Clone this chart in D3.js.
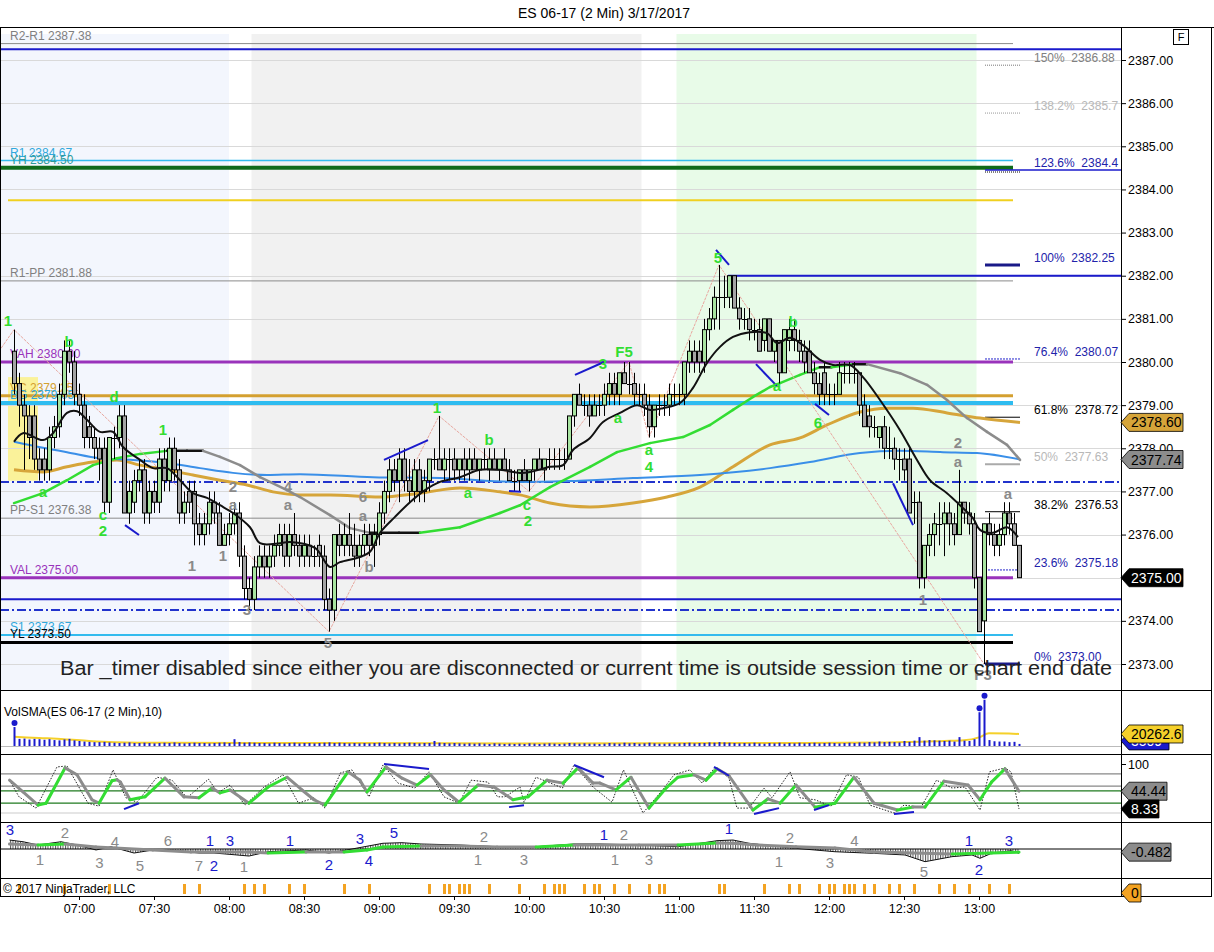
<!DOCTYPE html>
<html><head><meta charset="utf-8">
<script src="https://cdn.jsdelivr.net/npm/d3@7"></script>
<style>
body{margin:0;background:#fff;}
svg{display:block;font-family:Arial,"Liberation Sans",sans-serif;}
</style></head><body>
<svg id="c" width="1214" height="952"></svg>
<script>
// ---------------- DATA ----------------
const title = "ES 06-17 (2 Min)  3/17/2017";
const barOpen = [2380.25,2379.5,2379.0,2378.75,2378.75,2377.75,2377.75,2377.5,2378.25,2378.5,2379.25,2380.25,2380.0,2379.25,2379.0,2378.5,2378.25,2378.0,2378.0,2376.75,2378.25,2378.25,2378.75,2376.5,2376.75,2377.25,2377.5,2376.5,2377.0,2376.75,2377.75,2377.25,2378.0,2377.5,2376.5,2377.0,2377.0,2376.25,2376.0,2376.25,2376.75,2376.5,2375.75,2376.0,2376.25,2376.5,2375.5,2374.75,2374.5,2375.25,2375.5,2375.25,2375.5,2375.75,2376.0,2375.5,2376.0,2375.75,2375.5,2375.75,2375.5,2375.75,2375.5,2374.5,2374.25,2376.0,2375.75,2376.0,2375.75,2375.5,2375.75,2376.0,2375.75,2376.0,2376.5,2377.0,2377.5,2377.25,2377.75,2377.25,2377.0,2377.5,2377.0,2377.25,2377.75,2377.75,2377.5,2377.75,2377.75,2377.5,2377.75,2377.5,2377.75,2377.5,2377.75,2377.5,2377.75,2377.5,2377.75,2377.5,2377.25,2377.25,2377.5,2377.25,2377.5,2377.75,2377.5,2377.75,2377.75,2377.75,2377.75,2377.75,2378.75,2379.25,2379.0,2379.0,2378.75,2379.0,2379.0,2379.25,2379.5,2379.25,2379.75,2379.5,2379.5,2379.25,2379.25,2379.0,2378.5,2379.0,2379.0,2379.0,2379.25,2379.25,2379.25,2380.0,2380.25,2380.25,2380.0,2380.75,2381.0,2381.5,2381.5,2381.5,2382.0,2381.25,2381.0,2381.0,2380.75,2380.75,2380.5,2381.0,2380.25,2380.5,2379.75,2380.5,2380.75,2380.5,2380.25,2380.25,2379.75,2379.5,2379.75,2379.25,2379.25,2379.25,2379.75,2379.75,2379.75,2379.75,2379.0,2378.75,2378.5,2378.25,2378.5,2378.0,2378.0,2377.75,2377.75,2377.75,2376.75,2376.75,2375.0,2375.75,2376.0,2376.25,2376.25,2376.5,2376.25,2376.0,2376.75,2376.5,2376.25,2375.0,2374.0,2376.25,2376.0,2375.75,2376.0,2376.5,2376.25,2375.75];
const barHigh = [2380.75,2379.75,2379.25,2379.0,2379.0,2378.0,2378.0,2378.5,2378.75,2379.5,2380.5,2380.5,2380.25,2379.5,2379.25,2378.75,2378.5,2378.25,2378.25,2378.25,2378.5,2379.0,2379.0,2377.25,2377.5,2377.75,2377.75,2377.25,2377.25,2378.0,2378.0,2378.25,2378.25,2377.75,2377.0,2377.25,2377.25,2376.5,2376.5,2377.0,2377.0,2376.75,2376.25,2376.5,2376.75,2376.75,2375.75,2375.0,2375.5,2375.75,2375.75,2375.75,2376.0,2376.25,2376.25,2376.25,2376.5,2376.0,2376.0,2376.0,2375.75,2376.0,2375.75,2374.75,2376.0,2376.25,2376.25,2376.5,2376.25,2376.0,2376.25,2376.25,2376.25,2376.75,2377.25,2377.75,2377.75,2378.0,2378.0,2377.75,2377.75,2377.75,2377.5,2377.75,2378.0,2378.75,2378.0,2378.0,2378.0,2377.75,2378.0,2378.0,2378.0,2377.75,2378.0,2378.0,2378.0,2377.75,2378.0,2377.75,2377.5,2377.5,2377.75,2377.5,2377.75,2378.0,2377.75,2378.0,2378.0,2378.0,2378.0,2378.75,2379.25,2379.5,2379.25,2379.25,2379.25,2379.25,2379.5,2379.75,2379.75,2379.75,2380.0,2380.0,2379.75,2379.5,2379.5,2379.25,2379.0,2379.25,2379.25,2379.5,2379.5,2379.5,2380.0,2380.5,2380.5,2380.5,2381.0,2381.25,2381.75,2382.25,2382.0,2382.0,2382.0,2381.5,2381.25,2381.25,2381.0,2381.0,2381.0,2381.0,2380.5,2380.5,2380.75,2381.0,2381.0,2380.75,2380.5,2380.5,2380.0,2379.75,2380.0,2379.5,2379.5,2380.0,2380.0,2380.0,2380.0,2379.75,2379.25,2379.0,2378.75,2378.5,2378.75,2378.5,2378.25,2378.0,2378.0,2378.0,2377.0,2377.0,2375.75,2376.25,2376.5,2376.75,2376.75,2376.75,2376.5,2377.5,2376.75,2376.75,2376.5,2375.0,2376.25,2376.5,2376.25,2376.25,2376.75,2376.75,2376.5,2375.75];
const barLow = [2379.25,2378.5,2377.5,2377.75,2377.5,2377.25,2377.25,2377.25,2378.0,2378.25,2379.0,2379.75,2379.0,2378.75,2378.0,2378.0,2377.75,2377.25,2376.5,2376.5,2377.75,2378.0,2376.5,2376.25,2376.5,2377.0,2376.25,2376.25,2376.5,2376.5,2377.0,2377.0,2377.25,2376.25,2376.25,2376.5,2375.75,2375.75,2375.75,2376.0,2376.25,2375.75,2375.75,2375.75,2376.0,2375.25,2374.5,2374.25,2374.25,2375.0,2375.0,2375.0,2375.25,2375.5,2375.25,2375.25,2375.5,2375.25,2375.25,2375.25,2375.25,2375.25,2374.25,2373.75,2374.0,2375.5,2375.5,2375.5,2375.25,2375.25,2375.5,2375.5,2375.25,2375.75,2376.25,2376.75,2377.0,2376.75,2377.0,2376.75,2376.75,2376.75,2376.75,2377.0,2377.5,2377.5,2377.25,2377.25,2377.25,2377.25,2377.25,2377.25,2377.5,2377.25,2377.5,2377.25,2377.5,2377.25,2377.5,2377.25,2377.0,2377.0,2377.25,2377.0,2377.25,2377.5,2377.25,2377.5,2377.5,2377.5,2377.5,2377.75,2378.5,2379.0,2378.75,2378.5,2378.75,2378.75,2378.75,2379.0,2379.0,2379.0,2379.5,2379.25,2379.0,2379.0,2378.75,2378.25,2378.25,2378.75,2378.75,2378.75,2379.0,2379.0,2379.0,2379.75,2379.75,2379.75,2379.75,2380.5,2380.75,2380.75,2381.25,2381.25,2381.25,2380.75,2380.75,2380.5,2380.5,2380.25,2380.25,2380.25,2380.0,2379.5,2379.75,2380.25,2380.25,2380.0,2379.75,2379.75,2379.25,2379.0,2379.0,2379.0,2379.0,2379.25,2379.5,2379.5,2379.5,2378.75,2378.5,2378.25,2378.25,2378.0,2377.75,2377.75,2377.5,2377.25,2377.25,2376.5,2376.25,2374.75,2374.75,2375.5,2375.5,2375.75,2375.5,2375.75,2375.75,2376.0,2376.25,2376.0,2374.75,2373.75,2373.0,2375.75,2375.5,2375.5,2375.75,2376.0,2375.75,2375.0];
const barClose = [2379.5,2379.0,2378.75,2378.25,2377.75,2377.5,2377.5,2378.25,2378.5,2379.25,2380.25,2380.0,2379.25,2379.0,2378.25,2378.25,2378.0,2377.75,2376.75,2378.25,2378.25,2378.75,2376.5,2377.0,2377.25,2377.5,2376.5,2377.0,2376.75,2377.75,2377.25,2378.0,2377.5,2376.5,2376.75,2376.75,2376.25,2376.0,2376.25,2376.75,2376.5,2375.75,2376.0,2376.25,2376.5,2375.5,2374.75,2374.5,2375.25,2375.5,2375.25,2375.5,2375.75,2376.0,2375.5,2376.0,2375.75,2375.5,2375.75,2375.5,2375.5,2375.5,2374.5,2374.25,2376.0,2375.75,2376.0,2375.75,2375.5,2375.75,2376.0,2375.75,2376.0,2376.5,2377.0,2377.5,2377.25,2377.75,2377.25,2377.0,2377.5,2377.0,2377.25,2377.75,2377.75,2377.5,2377.75,2377.75,2377.5,2377.75,2377.5,2377.75,2377.5,2377.75,2377.75,2377.75,2377.5,2377.75,2377.5,2377.25,2377.25,2377.5,2377.25,2377.5,2377.75,2377.5,2377.75,2377.75,2377.75,2377.75,2377.75,2378.75,2379.25,2379.0,2379.0,2378.75,2379.0,2379.0,2379.25,2379.5,2379.25,2379.75,2379.5,2379.5,2379.25,2379.25,2379.0,2378.5,2379.0,2379.0,2379.0,2379.25,2379.25,2379.25,2380.0,2380.25,2380.0,2380.0,2380.75,2381.0,2381.5,2381.5,2381.5,2382.0,2381.25,2381.0,2381.0,2380.75,2380.75,2380.25,2381.0,2380.25,2380.5,2379.75,2380.75,2380.75,2380.5,2380.25,2380.0,2379.75,2379.5,2379.25,2379.25,2379.25,2379.25,2379.75,2379.75,2379.75,2379.75,2379.0,2378.5,2378.5,2378.5,2378.5,2378.0,2378.0,2377.75,2377.75,2377.5,2376.5,2376.75,2375.0,2375.75,2376.0,2376.25,2376.25,2376.5,2376.25,2376.0,2376.75,2376.5,2376.25,2375.0,2373.75,2376.25,2376.0,2375.75,2376.0,2376.5,2376.25,2375.75,2375.0];
const volumes = [32000,12000,12500,11000,12000,11500,10500,11500,10000,9500,11000,12000,9500,8500,7500,7000,6500,6500,7000,6000,5500,5000,5500,6000,5000,5000,5500,5000,4500,5000,5500,5000,6000,5000,4500,5000,5500,5000,5000,4500,5000,5500,6000,5000,11500,6500,5500,6000,5500,5000,5000,4500,5500,5000,4500,5000,5500,4500,5000,5000,4500,5000,5500,6000,5000,5500,5000,4500,5000,4500,5000,4500,5000,5500,5000,4500,5000,4500,5000,5500,5000,4500,5000,5000,8500,5500,5000,4500,5000,4500,4000,4500,4000,4500,4000,3500,4500,4000,3500,4000,3500,4000,3500,4500,4000,3500,4000,4500,4000,3500,4000,5000,4500,4000,4500,4000,4000,3500,4000,5000,4500,4000,5500,4500,5000,4000,4500,5500,4500,4000,4000,4500,4000,4500,5000,5500,4500,5000,5000,6000,5500,6500,6000,5500,5000,4500,5000,4500,5500,4500,4000,5000,4500,5500,4000,5000,4500,5500,4500,5000,5500,4500,5000,5500,5000,4500,5000,5500,5000,6000,5500,6500,6000,7500,6500,7000,6500,6000,8500,7000,9000,15000,9000,10000,9500,9000,8500,9000,7500,15000,9000,8500,11500,57000,78000,10000,8000,7500,7500,6500,7000,3509];
const volSma = [[0,15500],[5,13500],[10,11500],[15,8500],[20,6500],[30,5300],[60,5000],[100,4300],[150,4900],[175,6000],[186,8400],[190,9500],[193,14500],[195,21500],[199,21000],[201,20262.6]];
// indicator curves: [bar index, value]
const emaPts = [[0,2378.15],[1.8,2378.35],[5.8,2378.19],[7.8,2378.35],[10.6,2378.82],[12.6,2378.86],[14.6,2378.66],[17.2,2378.38],[19.8,2378.38],[21.8,2378.03],[25.2,2377.73],[27.8,2377.54],[30.6,2377.54],[33.2,2377.26],[35.8,2376.96],[38.6,2376.85],[41.2,2376.68],[43.8,2376.5],[47.2,2376.17],[49.2,2375.8],[53.2,2375.8],[55.2,2375.83],[60.2,2375.69],[63.2,2375.25],[65.2,2375.36],[69.2,2375.48],[71.2,2375.6],[73.2,2376.04],[76.2,2376.41],[79.2,2376.75],[82.2,2377.03],[85.2,2377.22],[89.2,2377.33],[93.2,2377.5],[97.2,2377.5],[101.2,2377.43],[103.2,2377.45],[107.2,2377.57],[109.8,2377.61],[111.8,2377.96],[115.2,2378.24],[117.8,2378.61],[121.2,2378.82],[124.6,2379.0],[127.2,2378.89],[129.8,2378.93],[133.2,2379.05],[135.8,2379.4],[138.6,2379.98],[141.2,2380.35],[143.8,2380.58],[147.2,2380.69],[150.6,2380.67],[152.6,2380.44],[155.2,2380.56],[157.8,2380.39],[161.2,2380.05],[163.8,2379.93],[167.2,2379.93],[169.8,2379.65],[173.2,2379.12],[177.2,2378.42],[180.6,2377.73],[183.2,2377.26],[186.6,2376.96],[189.2,2376.68],[191.8,2376.38],[193.2,2376.11],[195.8,2376.04],[198.6,2376.17],[200.8,2375.94]];
const goldPts = [[0,2377.5],[5.8,2377.45],[10.6,2377.57],[15.8,2377.68],[20.6,2377.73],[25.2,2377.61],[30.6,2377.5],[35.8,2377.38],[41.2,2377.26],[46.6,2377.15],[51.8,2376.99],[57.2,2376.92],[63.2,2376.92],[73.2,2376.87],[81.2,2376.96],[89.2,2377.08],[97.2,2376.99],[101.2,2376.92],[107.2,2376.73],[115.2,2376.64],[123.8,2376.73],[130.6,2376.87],[137.2,2377.1],[143.8,2377.57],[151.2,2378.08],[157.2,2378.24],[162.6,2378.54],[169.2,2378.84],[174.6,2378.93],[179.8,2378.93],[186.6,2378.82],[193.2,2378.7],[201.2,2378.6]];
const bluePts = [[0,2378.15],[5.8,2378.01],[10.6,2377.91],[17.2,2377.77],[23.8,2377.73],[30.6,2377.66],[37.2,2377.54],[43.8,2377.43],[50.6,2377.38],[57.2,2377.4],[71.8,2377.33],[85.2,2377.31],[101.2,2377.22],[110.6,2377.24],[123.8,2377.31],[137.2,2377.38],[151.2,2377.54],[159.2,2377.68],[169.2,2377.89],[177.2,2377.94],[185.8,2377.91],[192.6,2377.89],[201.2,2377.74]];
const trendPts = [[0,2376.73],[5.8,2376.96],[10.6,2377.26],[15.8,2377.61],[20.6,2377.77],[25.2,2377.87],[30.6,2377.94],[34.6,2377.94],[37.8,2377.94],[41.2,2377.8],[45.2,2377.61],[49.2,2377.33],[54.6,2377.03],[57.2,2376.87],[63.2,2376.45],[67.2,2376.15],[71.2,2376.04],[73.2,2376.04],[77,2376.04],[81.2,2376.04],[89.2,2376.17],[97.2,2376.5],[101.2,2376.68],[107.2,2377.1],[115.2,2377.57],[120.6,2377.91],[127.2,2378.12],[133.8,2378.26],[139.2,2378.54],[143.8,2378.89],[147.8,2379.19],[151.2,2379.42],[153.2,2379.51],[157.2,2379.7],[161.2,2379.88],[163.5,2379.88],[167.8,2379.95],[170.6,2379.95],[177.2,2379.74],[182.6,2379.47],[186.6,2379.12],[190.6,2378.7],[194.6,2378.38],[198.6,2378.08],[201.2,2377.73]];
const zigzag = [[-3,2380.25],[0,2380.75],[63,2373.75],[85,2378.75],[103,2377.0],[123,2380.0],[127,2378.25],[141,2382.25],[194,2373.0]];
const divLines = [[22.2,2376.22,25,2375.99],[74,2377.73,82.8,2378.19],[99,2377.01,101.4,2376.99],[112.2,2379.7,118,2380.0],[140.4,2382.6,143,2382.25],[148.4,2379.95,152.6,2379.44],[160.2,2379.03,163,2378.77],[175.8,2377.19,179.8,2376.22]];
const waveLabels = [["1",-1.2,2380.95,"g"],["b",11,2380.46,"g"],["a",5.8,2377.0,"g"],["c",17.8,2376.45,"g"],["2",17.8,2376.08,"g"],["d",20,2379.19,"g"],["1",29.8,2378.42,"g"],["1",84.6,2378.93,"g"],["b",95,2378.19,"g"],["a",90.8,2376.96,"g"],["c",102.6,2376.68,"g"],["2",102.8,2376.31,"g"],["3",117.8,2379.95,"g"],["F5",122,2380.23,"g"],["a",120.8,2378.7,"g"],["a",127,2377.96,"g"],["4",127,2377.57,"g"],["5",140.8,2382.41,"g"],["b",155.8,2380.93,"g"],["a",152.6,2379.44,"g"],["6",160.8,2378.59,"g"],
 ["1",35.6,2375.27,"k"],["1",41.8,2375.5,"k"],["2",43.8,2377.1,"k"],["a",43.8,2376.68,"k"],["4",54.8,2377.1,"k"],["a",54.8,2376.68,"k"],["3",46.6,2374.25,"k"],["6",69.8,2376.87,"k"],["a",69.8,2376.43,"k"],["b",71,2375.25,"k"],["5",62.8,2373.49,"k"],["2",188.8,2378.12,"k"],["a",188.8,2377.68,"k"],["a",198.8,2376.94,"k"],["1",181.8,2374.48,"k"],["F3",193.8,2372.74,"k"]];
const levelNames  = ["R2-R1 2387.38","R2","R1 2384.67","YH 2384.50","VWAP+","R1 pivot","R1-PP 2381.88","VAH 2380.00","VC 2379.25","BG 2379.05","POC","PP-S1 2376.38","VAL 2375.00","S1 pivot","S1 band","S1 2373.67","YL 2373.50"];
const levelPrices = [2387.38,2387.25,2384.67,2384.5,2383.75,2382.0,2381.88,2380.0,2379.22,2379.05,2377.22,2376.38,2375.0,2374.5,2374.25,2373.67,2373.5];
const fibPcts   = ["150%","138.2%","123.6%","100%","76.4%","61.8%","50%","38.2%","23.6%","0%"];
const fibPrices = [2386.88,2385.77,2384.45,2382.25,2380.07,2378.72,2377.63,2376.53,2375.18,2373.0];
const fibText   = ["2386.88","2385.7","2384.4","2382.25","2380.07","2378.72","2377.63","2376.53","2375.18","2373.00"];
const sessions = [["06:28","08:00"],["08:09","10:45"],["10:59","12:59"]];
const stochD = [[-0.9,67],[1.8,43],[4.8,16],[6.4,20],[10.2,92],[12.6,78],[15.6,27],[17,20],[19.6,66],[20.6,68],[21.3,63],[23.2,27],[26.2,33],[30.2,71],[34,33],[37,31],[39.6,51],[41.2,41],[43.2,47],[47,20],[50.8,53],[54.6,73],[57.6,47],[60,27],[62.2,16],[66.8,84],[69.2,67],[70.6,43],[74.4,94],[77.6,71],[80.6,57],[83.3,78],[86,47],[89,22],[92.8,57],[96,53],[99.8,27],[102.8,33],[106.6,67],[109.8,61],[112.8,92],[115.8,61],[117.2,61],[120.4,47],[123.4,73],[127,10],[130.6,53],[132.8,73],[136,78],[138.4,67],[140.6,90],[143,76],[147.8,6],[150.8,29],[153.2,20],[156.4,57],[160.2,12],[164.2,20],[168,73],[172,20],[176.7,6],[179.8,12],[182.2,12],[186,65],[190.8,57],[193.2,27],[195.5,63],[198.2,90],[201,44.44]];
const stochK = [[-0.9,67],[1,33],[4.4,10],[8.6,94],[10.6,96],[14.8,20],[17,14],[19.8,88],[22.4,31],[24.6,22],[28.6,73],[31.6,67],[34.6,31],[38.9,69],[40.8,41],[43.2,57],[46.2,16],[50,53],[53.8,78],[56.9,20],[60,31],[62.2,10],[65.3,82],[67.6,88],[71,33],[73.8,98],[76.8,61],[80.2,51],[83,84],[86,33],[89,20],[91.4,67],[94.8,63],[96.7,33],[98.2,33],[101.2,53],[102,22],[104.4,73],[109.7,51],[112,98],[115.8,53],[119.6,22],[121.9,88],[125.8,0],[129.7,47],[132,78],[135.2,88],[137.6,61],[140.3,94],[143,71],[144.6,10],[147,10],[150,51],[151.6,31],[155.2,84],[157.2,31],[160.2,27],[163.4,14],[166.5,78],[168.9,73],[171.2,16],[176,0],[178,16],[181.4,12],[184.5,67],[187.6,51],[190.2,53],[193.2,6],[195.1,84],[198.2,92],[199.4,84],[201,8.33]];
const stochDiv = [[22,8,25,20],[74,100,83,90],[99,12,102,16],[112,98,118,73],[140,94,143,76],[148,-2,153,10],[160,6,163,16],[176,-2,180,2]];
const stochLevels = [80,55,45,20,0];
const macdSlow = [[-0.9,0.77],[4.8,0.62],[10.2,0.77],[16.4,0.31],[20.2,0.15],[27.8,-0.15],[35.4,-0.46],[47,-0.46],[50.8,-0.62],[58.4,-0.46],[66,-0.46],[70.6,-0.15],[73.8,0.31],[81.4,0.46],[89,0.46],[96.6,0.31],[104.4,0.31],[112,0.62],[125,0.62],[132.8,0.62],[140.6,0.92],[144.6,0.85],[148.6,0.62],[156.4,0.35],[164.2,0.15],[172,-0.46],[179.8,-0.62],[187.6,-0.77],[195.5,-0.62],[201,-0.482]];
const macdFast = [[-0.9,1.38],[1.8,1.12],[4.8,0.62],[9.4,1.12],[12.6,0.62],[16.4,-0.15],[19.4,0.35],[24,-0.62],[27.8,-0.15],[31.6,-0.15],[37,-0.62],[40,-0.62],[44.6,-0.92],[47,-1.08],[50.8,-0.42],[58.4,-0.15],[63,-0.62],[67.6,0],[73.8,0.88],[77.6,0.97],[81.4,0.77],[89,0.62],[96.6,0.35],[104.4,0.35],[112,0.77],[117.2,0.77],[125,0.62],[132.8,0.35],[140.6,1.28],[143.8,1.38],[147,0.88],[150,0.62],[156.4,0.1],[164.2,-0.42],[172,-0.67],[178.2,-0.92],[182.2,-1.95],[187.6,-1.18],[191.6,-0.92],[193.2,-1.43],[195.5,-0.67],[199.4,-0.26],[201,-0.67]];
const macdLabels = [["3",-0.8,2.92,"b"],["2",10.2,2.46,"k"],["1",5.2,-1.69,"k"],["4",20.2,1.08,"k"],["3",17.1,-2.15,"k"],["5",25.2,-2.62,"k"],["6",30.8,1.23,"k"],["7",37,-2.62,"k"],["1",39.2,1.23,"b"],["2",40,-2.62,"b"],["3",43.2,1.23,"b"],["1",46,-2.77,"k"],["1",55.2,1.23,"b"],["2",63,-2.46,"b"],["3",69.2,1.54,"b"],["4",71,-1.85,"b"],["5",76,2.46,"b"],["2",94,1.85,"k"],["1",92.8,-1.69,"k"],["3",102,-1.69,"k"],["1",118,2.15,"b"],["2",122,2.15,"k"],["1",120.2,-1.69,"k"],["3",127,-1.69,"k"],["1",143,3.08,"b"],["2",155.2,1.69,"k"],["1",153,-2.0,"k"],["3",163.2,-2.15,"k"],["4",168.1,1.23,"k"],["5",182,-3.54,"k"],["1",191,1.23,"b"],["2",193,-3.23,"b"],["3",199,1.23,"b"]];
const signalBars = [1,10,19,34,37,46,48,50,55,58,66,71,83,86,87,89,90,91,95,101,106,108,109,110,114,116,117,120,123,127,129,130,141,142,150,155,157,161,163,164,166,167,168,170,172,175,177,180,185,188,191,195,199];
const timeTicks = ["07:00","07:30","08:00","08:30","09:00","09:30","10:00","10:30","11:00","11:30","12:00","12:30","13:00"];
const priceTicks = [2373,2374,2375,2376,2377,2378,2379,2380,2381,2382,2383,2384,2385,2386,2387];

// ---------------- LAYOUT ----------------
const PR = 1121;
const svg = d3.select("#c");
const day = (h,m,s=0)=>new Date(2017,2,17,h,m,s);
const hm = s=>{const [h,m]=s.split(":").map(Number);return day(h,m);};
const base = day(6,34).getTime();
const tAt = i => new Date(base + i*120000);
const x = d3.scaleTime().domain([day(6,28,24), day(13,56,48)]).range([0,PR]);
const xi = i => x(tAt(i));
const yP = d3.scaleLinear().domain([2373,2387]).range([664,60]);
const yV = d3.scaleLinear().domain([0,81000]).range([746,698]);
const yS = d3.scaleLinear().domain([0,100]).range([813,764]);
const yM = d3.scaleLinear().domain([-4,4]).range([875,823]);

const defs = svg.append("defs");
function clip(id,y0,y1){defs.append("clipPath").attr("id",id).append("rect").attr("x",0).attr("y",y0).attr("width",PR).attr("height",y1-y0);}
clip("cp",27,690);clip("cv",690,754);clip("cs",754,822);clip("cm",822,878);clip("cg",878,896);
const pat = defs.append("pattern").attr("id","hatch").attr("patternUnits","userSpaceOnUse").attr("width",2.5).attr("height",4);
pat.append("rect").attr("x",0).attr("y",0).attr("width",1).attr("height",4).attr("fill","#555");

// title
svg.append("text").attr("x",604).attr("y",18).attr("text-anchor","middle").attr("font-size",14).text(title);

// ---------- price panel ----------
const gp = svg.append("g").attr("clip-path","url(#cp)");
const sessFill = ["#f3f6fd","#f1f1f1","#e8fbe8"];
sessions.forEach((s,k)=>gp.append("rect").attr("x",x(hm(s[0]))).attr("y",34).attr("width",x(hm(s[1]))-x(hm(s[0]))).attr("height",656).attr("fill",sessFill[k]));
// yellow opening-range box
gp.append("rect").attr("x",xi(-1.2)).attr("y",yP(2379.65)).attr("width",xi(4.8)-xi(-1.2)).attr("height",yP(2377.25)-yP(2379.65)).attr("fill","#faf29a");
// grid
priceTicks.forEach(p=>gp.append("line").attr("x1",0).attr("x2",PR).attr("y1",Math.round(yP(p))+0.5).attr("y2",Math.round(yP(p))+0.5).attr("stroke","#d9d9d9"));

// level lines
const levelStyle = [
 {c:"#8a8a8a",w:1,e:"s",lc:"#808080"},{c:"#1a1acc",w:2,e:"f"},{c:"#33bbee",w:1.5,e:"s",lc:"#30a8dc"},{c:"#0f6a1a",w:4,e:"s",lc:"#2f9a9a"},
 {c:"#f0d020",w:2,e:"s",s0:-1.2},{c:"#1a1acc",w:2,e:"f",s0:142.8},{c:"#8a8a8a",w:1,e:"s",lc:"#808080"},{c:"#9933bb",w:3,e:"s",lc:"#9933bb"},
 {c:"#d4a030",w:3,e:"s",lc:"#d4a030"},{c:"#2ebcf0",w:4,e:"s",lc:"#30a8dc"},{c:"#2233cc",w:2,e:"f",d:"9,3,2,3"},{c:"#8a8a8a",w:1,e:"s",lc:"#808080"},
 {c:"#9933bb",w:3,e:"s",lc:"#9933bb"},{c:"#1a1acc",w:2,e:"f"},{c:"#2233cc",w:2,e:"f",d:"9,3,2,3"},{c:"#33bbee",w:2,e:"s",lc:"#30a8dc"},{c:"#000",w:3,e:"s",lc:"#000"}];
levelPrices.forEach((p,k)=>{
  const st=levelStyle[k];
  const x0 = st.s0!==undefined ? xi(st.s0) : 0;
  const x1 = st.e==="f" ? PR : xi(199.8);
  const l=gp.append("line").attr("x1",x0).attr("x2",x1).attr("y1",yP(p)).attr("y2",yP(p)).attr("stroke",st.c).attr("stroke-width",st.w);
  if(st.d) l.attr("stroke-dasharray",st.d);
});
// level labels
levelPrices.forEach((p,k)=>{
  const st=levelStyle[k]; if(!st.lc) return;
  gp.append("text").attr("x",10).attr("y",yP(p)-4).attr("font-size",12).attr("fill",st.lc).text(levelNames[k]);
});

// fib lines & labels
const fibStyle=[
 {c:"#777",w:1,d:"1,1",t:"#808080"},{c:"#999",w:1,d:"1,1",t:"#b8b8b8"},{c:"#000",w:1,d:"1,1",t:"#2222aa",blue:true},{c:"#1a1a88",w:3,t:"#2222aa"},
 {c:"#2222cc",w:1,d:"2,1",t:"#2222aa"},{c:"#000",w:1,t:"#000"},{c:"#aaa",w:2,t:"#b8b8b8"},{c:"#000",w:1,t:"#000"},{c:"#2222cc",w:1,d:"2,1",t:"#2222aa"},{c:"#1a1a88",w:3,t:"#2222aa"}];
fibPrices.forEach((p,k)=>{
  const st=fibStyle[k];
  if(st.blue) gp.append("line").attr("x1",xi(194.2)).attr("x2",PR).attr("y1",yP(p)).attr("y2",yP(p)).attr("stroke","#1a1acc").attr("stroke-width",1.5);
  const l=gp.append("line").attr("x1",xi(194.2)).attr("x2",xi(201.2)).attr("y1",yP(p)+ (st.blue?2:0)).attr("y2",yP(p)+(st.blue?2:0)).attr("stroke",st.c).attr("stroke-width",st.w);
  if(st.d) l.attr("stroke-dasharray",st.d);
  gp.append("text").attr("x",1034).attr("y",yP(p)-3).attr("font-size",12).attr("fill",st.t).style("white-space","pre").text(fibPcts[k]+"  "+fibText[k]);
});

// moving averages
const lineGen = d3.line().x(d=>xi(d[0])).y(d=>yP(d[1])).curve(d3.curveMonotoneX);
gp.append("path").attr("d",lineGen(goldPts)).attr("fill","none").attr("stroke","#d6a53a").attr("stroke-width",3);
gp.append("path").attr("d",lineGen(bluePts)).attr("fill","none").attr("stroke","#3a8fe8").attr("stroke-width",2);
function slopeLine(g, pts, fx, fy, w, cols, tol){
  for(let k=0;k<pts.length-1;k++){
    const a=pts[k], b=pts[k+1], dv=b[1]-a[1];
    const c = Math.abs(dv)<=tol ? cols[2] : (dv>0?cols[0]:cols[1]);
    g.append("line").attr("x1",fx(a[0])).attr("y1",fy(a[1])).attr("x2",fx(b[0])).attr("y2",fy(b[1])).attr("stroke",c).attr("stroke-width",w).attr("stroke-linecap","round");
  }
}
slopeLine(gp, trendPts, xi, yP, 2.5, ["#33dd33","#8c8c8c","#111"], 0.01);
// zigzag
gp.append("path").attr("d",d3.line().x(d=>xi(d[0])).y(d=>yP(d[1]))(zigzag)).attr("fill","none").attr("stroke","#e8a8a0").attr("stroke-width",1).attr("stroke-dasharray","3,1");

// bars
const gb = gp.append("g");
barClose.forEach((c,i)=>{
  const o=barOpen[i], h=barHigh[i], l=barLow[i];
  const cx=Math.round(xi(i))+0.5;
  gb.append("line").attr("x1",cx).attr("x2",cx).attr("y1",yP(h)).attr("y2",yP(l)).attr("stroke","#000").attr("stroke-width",1);
  if(o===c){
    gb.append("line").attr("x1",cx-2.5).attr("x2",cx+2.5).attr("y1",Math.round(yP(c))+0.5).attr("y2",Math.round(yP(c))+0.5).attr("stroke","#000");
  } else {
    const yt=yP(Math.max(o,c)), yb=yP(Math.min(o,c));
    gb.append("rect").attr("x",cx-2).attr("y",yt).attr("width",4).attr("height",yb-yt).attr("fill",c>o?"#a8e4a0":"#a4a4a4").attr("stroke","#000").attr("stroke-width",1);
  }
});
// fast EMA
gp.append("path").attr("d",d3.line().x(d=>xi(d[0])).y(d=>yP(d[1])).curve(d3.curveCatmullRom)(emaPts)).attr("fill","none").attr("stroke","#111").attr("stroke-width",2);
// divergence lines
divLines.forEach(d=>gp.append("line").attr("x1",xi(d[0])).attr("y1",yP(d[1])).attr("x2",xi(d[2])).attr("y2",yP(d[3])).attr("stroke","#1a1acc").attr("stroke-width",2));
// wave labels
waveLabels.forEach(d=>gp.append("text").attr("x",xi(d[1])).attr("y",yP(d[2])).attr("dy","0.35em").attr("text-anchor","middle").attr("font-size",15).attr("font-weight","bold").attr("fill",d[3]==="g"?"#33dd33":"#8a8a8a").text(d[0]));
// message
gp.append("text").attr("x",60).attr("y",675).attr("font-size",20).attr("fill","#222").attr("textLength",1052).attr("lengthAdjust","spacingAndGlyphs")
  .text("Bar _timer disabled since either you are disconnected or current time is outside session time or chart end date");

// ---------- volume panel ----------
const gv = svg.append("g").attr("clip-path","url(#cv)");
gv.append("line").attr("x1",0).attr("x2",PR).attr("y1",746.5).attr("y2",746.5).attr("stroke","#bbb");
gv.append("path").attr("d",d3.line().x(d=>xi(d[0])).y(d=>yV(d[1])).curve(d3.curveMonotoneX)(volSma)).attr("fill","none").attr("stroke","#f5d02a").attr("stroke-width",2);
volumes.forEach((v,i)=>{
  const cx=Math.round(xi(i))+0.5;
  gv.append("line").attr("x1",cx).attr("x2",cx).attr("y1",yV(0)).attr("y2",yV(v)).attr("stroke","#1a1acc").attr("stroke-width",2);
  if(v>30000) gv.append("circle").attr("cx",cx).attr("cy",yV(v)-4).attr("r",3).attr("fill","#1a1acc");
});
svg.append("text").attr("x",4).attr("y",716).attr("font-size",12).text("VolSMA(ES 06-17 (2 Min),10)");

// ---------- stochastic panel ----------
const gs = svg.append("g").attr("clip-path","url(#cs)");
const stCol={80:"#888",55:"#888",45:"#1f7a1f",20:"#1f7a1f",0:"#ccc"};
stochLevels.forEach(v=>gs.append("line").attr("x1",0).attr("x2",PR).attr("y1",yS(v)).attr("y2",yS(v)).attr("stroke",stCol[v]).attr("stroke-width",1.2));
gs.append("path").attr("d",d3.line().x(d=>xi(d[0])).y(d=>yS(d[1]))(stochK)).attr("fill","none").attr("stroke","#222").attr("stroke-width",1).attr("stroke-dasharray","1.5,1.5");
const sdPath = d3.line().x(d=>xi(d[0])).y(d=>yS(d[1])).curve(d3.curveMonotoneX);
for(let k=0;k<stochD.length-1;k++){
  const a=stochD[k],b=stochD[k+1];
  gs.append("path").attr("d",sdPath([a,b])).attr("fill","none").attr("stroke",b[1]>a[1]?"#33dd33":"#8c8c8c").attr("stroke-width",3).attr("stroke-linecap","round");
}
stochDiv.forEach(d=>gs.append("line").attr("x1",xi(d[0])).attr("y1",yS(d[1])).attr("x2",xi(d[2])).attr("y2",yS(d[3])).attr("stroke","#1a1acc").attr("stroke-width",2));

// ---------- macd panel ----------
const gm = svg.append("g").attr("clip-path","url(#cm)");
gm.append("path").attr("d",d3.area().x(d=>xi(d[0])).y0(yM(0)).y1(d=>yM(d[1]))(macdFast)).attr("fill","url(#hatch)");
gm.append("line").attr("x1",0).attr("x2",PR).attr("y1",yM(0)).attr("y2",yM(0)).attr("stroke","#000").attr("stroke-width",1);
gm.append("path").attr("d",d3.line().x(d=>xi(d[0])).y(d=>yM(d[1]))(macdFast)).attr("fill","none").attr("stroke","#111").attr("stroke-width",1);
slopeLine(gm, macdSlow, xi, yM, 3, ["#33dd33","#8c8c8c","#8c8c8c"], 0.0);
macdLabels.forEach(d=>gm.append("text").attr("x",xi(d[1])).attr("y",yM(d[2])).attr("dy","0.35em").attr("text-anchor","middle").attr("font-size",15).attr("fill",d[3]==="b"?"#1a1acc":"#8a8a8a").text(d[0]));

// ---------- signal panel ----------
const gg = svg.append("g").attr("clip-path","url(#cg)");
signalBars.forEach(i=>gg.append("rect").attr("x",Math.round(xi(i))-1).attr("y",884).attr("width",3).attr("height",10).attr("fill","#f3a322"));
svg.append("text").attr("x",3).attr("y",893).attr("font-size",12).text("\u00a9 2017 NinjaTrader, LLC");

// ---------- frame ----------
const fr = svg.append("g").attr("stroke","#000").attr("stroke-width",1);
fr.append("line").attr("x1",0).attr("x2",1214).attr("y1",27.5).attr("y2",27.5);
[690,754,822,878,896].forEach(y=>fr.append("line").attr("x1",0).attr("x2",1212).attr("y1",y+0.5).attr("y2",y+0.5));
fr.append("line").attr("x1",PR+0.5).attr("x2",PR+0.5).attr("y1",27).attr("y2",896);
fr.append("line").attr("x1",0.5).attr("x2",0.5).attr("y1",27).attr("y2",896);
fr.append("line").attr("x1",1211.5).attr("x2",1211.5).attr("y1",27).attr("y2",896);

// axes
const ax = svg.append("g").attr("transform",`translate(${PR},0)`).call(d3.axisRight(yP).tickValues(priceTicks).tickFormat(d3.format(".2f")).tickSize(5).tickPadding(2));
ax.select(".domain").remove(); ax.selectAll("text").attr("font-size",12.5).attr("font-family","Arial,'Liberation Sans',sans-serif").attr("fill","#000");
const axs = svg.append("g").attr("transform",`translate(${PR},0)`).call(d3.axisRight(yS).tickValues([100]).tickSize(5).tickPadding(2));
axs.select(".domain").remove(); axs.selectAll("text").attr("font-size",12.5).attr("font-family","Arial,'Liberation Sans',sans-serif");
const axx = svg.append("g").attr("transform","translate(0,896)").call(d3.axisBottom(x).tickValues(timeTicks.map(hm)).tickFormat(d3.timeFormat("%H:%M")).tickSize(4).tickPadding(4));
axx.select(".domain").remove(); axx.selectAll("text").attr("font-size",12.5).attr("font-family","Arial,'Liberation Sans',sans-serif");

// tags
function tag(y,text,bg,fg,w){
  const g=svg.append("g");
  g.append("path").attr("d",`M${PR},${y} L${PR+8},${y-9} L${PR+8+w},${y-9} L${PR+8+w},${y+9} L${PR+8},${y+9} Z`).attr("fill",bg).attr("stroke","#000").attr("stroke-width",0.8);
  g.append("text").attr("x",PR+10).attr("y",y).attr("dy","0.36em").attr("font-size",14).attr("fill",fg).text(text);
}
tag(yP(2378.60),"2378.60","#d6a53a","#000",54);
tag(yP(2377.74),"2377.74","#8c8c8c","#000",54);
tag(yP(2375.00),"2375.00","#000","#fff",54);
tag(yV(3509)-3,"3509","#1a1acc","#fff",40);
tag(yV(20262.6),"20262.6","#f5d02a","#000",54);
tag(yS(44.44),"44.44","#8c8c8c","#000",38);
tag(yS(8.33),"8.33","#000","#fff",30);
tag(yM(-0.482),"-0.482","#8c8c8c","#000",42);
tag(893,"0","#f3a322","#000",12);
// F box
svg.append("rect").attr("x",1173.5).attr("y",29.5).attr("width",15).attr("height",15).attr("fill","#fff").attr("stroke","#000");
svg.append("text").attr("x",1181).attr("y",41).attr("text-anchor","middle").attr("font-size",11).text("F");
</script>
</body></html>
